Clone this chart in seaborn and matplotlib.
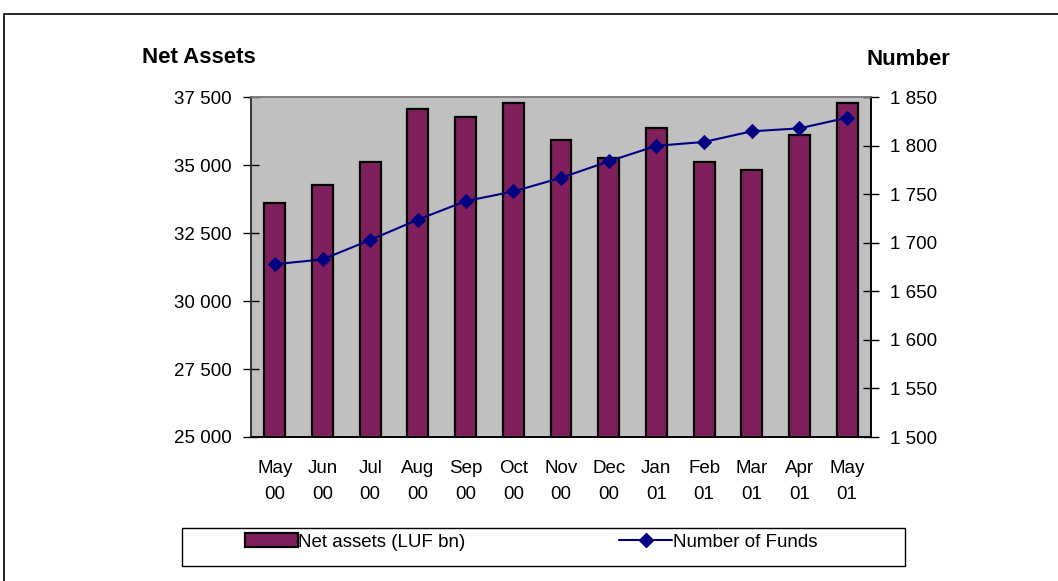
import numpy as np
import pandas as pd
import matplotlib
matplotlib.use("Agg")
import matplotlib.pyplot as plt
from matplotlib.patches import Rectangle, Patch
from matplotlib.lines import Line2D
from matplotlib.ticker import FuncFormatter, FixedLocator
import seaborn as sns

months = ["May\n00", "Jun\n00", "Jul\n00", "Aug\n00", "Sep\n00", "Oct\n00", "Nov\n00",
          "Dec\n00", "Jan\n01", "Feb\n01", "Mar\n01", "Apr\n01", "May\n01"]
net_assets = [33620, 34290, 35130, 37080, 36760, 37280, 35930,
              35270, 36370, 35130, 34810, 36110, 37280]
num_funds = [1678, 1683, 1703, 1724, 1743, 1753, 1767,
             1784, 1800, 1804, 1815, 1818, 1829]
left_ticks = [25000, 27500, 30000, 32500, 35000, 37500]
right_ticks = [1500, 1550, 1600, 1650, 1700, 1750, 1800, 1850]

sns.set_style("white")
plt.rcParams["font.family"] = ["Liberation Sans", "DejaVu Sans"]
plt.rcParams["text.color"] = "black"
plt.rcParams["xtick.labelcolor"] = "black"
plt.rcParams["ytick.labelcolor"] = "black"

bar_color = "#7f1f5b"
line_color = "#000080"
fs = 13.5

fig = plt.figure(figsize=(10.58, 5.81), dpi=100)
ax = fig.add_axes([251/1058, 1-437/581, 620/1058, (437-97.3)/581])
ax.set_facecolor("#c0c0c0")

df = pd.DataFrame({"month": months, "assets": net_assets, "funds": num_funds})
sns.barplot(data=df, x="month", y="assets", ax=ax, color=bar_color, width=0.44,
            edgecolor="black", linewidth=1.6, saturation=1)
ax.set_ylim(left_ticks[0], left_ticks[-1])
ax.set_xlim(-0.5, len(months) - 0.5)
ax.set_yticks(left_ticks)
fmt = FuncFormatter(lambda v, p: f"{int(v):,}".replace(",", " "))
ax.yaxis.set_major_formatter(fmt)
ax.set_xlabel("")
ax.set_ylabel("")
ax.set_xticks(range(len(months)))
ax.set_xticklabels(months, linespacing=1.7)
ax.xaxis.set_minor_locator(FixedLocator(np.arange(-0.5, len(months), 1.0)))
ax.tick_params(axis="x", which="major", length=0, pad=16.5, labelsize=fs)
ax.tick_params(axis="x", which="minor", direction="inout", length=9, width=1, color="black")
ax.tick_params(axis="y", direction="inout", length=12, width=1, color="black", labelsize=fs, pad=8)

ax2 = ax.twinx()
sns.lineplot(x=np.arange(len(months)), y=num_funds, ax=ax2, color=line_color,
             marker="D", markersize=7, markeredgecolor=line_color, linewidth=1.5)
ax2.set_ylim(right_ticks[0], right_ticks[-1])
ax2.set_yticks(right_ticks)
ax2.yaxis.set_major_formatter(fmt)
ax2.tick_params(axis="y", direction="inout", length=12, width=1, color="black", labelsize=fs, pad=8)
ax2.set_xlim(-0.5, len(months) - 0.5)

for a in (ax, ax2):
    for s in a.spines.values():
        s.set_linewidth(1.2)
    a.spines["top"].set_color("#808080")
    a.spines["left"].set_color("#333333")
    a.spines["right"].set_color("black")
    a.spines["bottom"].set_color("black")

fig.text(142/1058, 1-63/581, "Net Assets", fontsize=16, fontweight="bold", va="baseline", ha="left")
fig.text(867/1058, 1-65/581, "Number", fontsize=16, fontweight="bold", va="baseline", ha="left")

handles = [Patch(facecolor=bar_color, edgecolor="black", linewidth=1.6),
           Line2D([0], [0], color=line_color, marker="D", markersize=7, linewidth=1.5)]
fig.legend(handles, ["Net assets (LUF bn)", "Number of Funds"], ncol=2, frameon=False,
           loc="center left", bbox_to_anchor=(245/1058, 1-542/581), fontsize=fs,
           borderpad=0, borderaxespad=0,
           handlelength=2.8, handleheight=0.7, handletextpad=0.05, columnspacing=8.2)
fig.add_artist(Rectangle((182/1058, 1-566/581), 723/1058, 38/581, transform=fig.transFigure,
                         fill=False, edgecolor="black", linewidth=1))
fig.add_artist(Rectangle((4/1058, -0.05), 1.1, 1.05 - 14/581, transform=fig.transFigure,
                         fill=False, edgecolor="black", linewidth=1.2))

fig.savefig("out.png", dpi=100)
